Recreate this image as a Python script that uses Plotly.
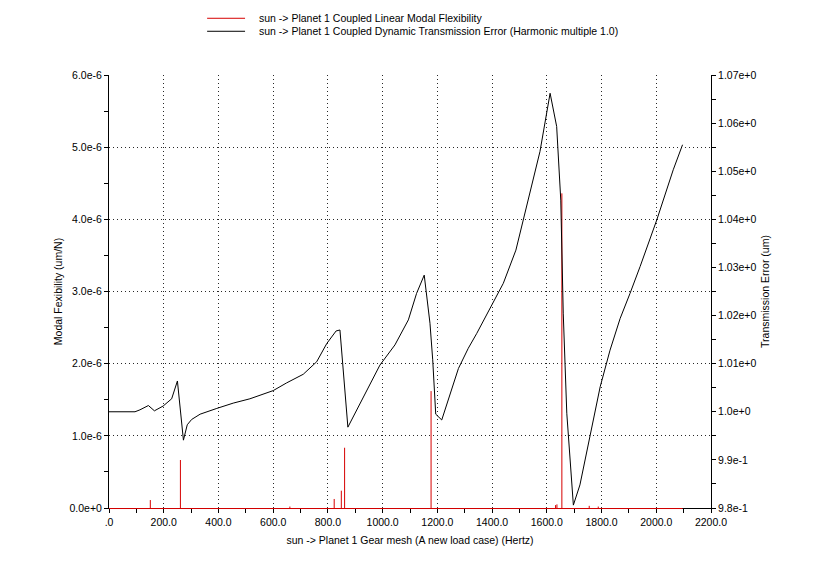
import plotly.graph_objects as go

# Transmission error curve (right axis)
te_freq = [0, 95, 113, 144, 166, 198, 229, 250, 272, 286, 302, 333, 394, 454, 515, 600, 649, 710,
           759, 796, 830, 844, 873, 942, 990, 1045, 1094, 1124, 1152, 1173, 1183, 1194, 1216, 1277,
           1313, 1344, 1392, 1441, 1487, 1575, 1612, 1636, 1651, 1654, 1660, 1673, 1685, 1697, 1721,
           1758, 1795, 1831, 1868, 1904, 1941, 2002, 2062, 2096]
te_vals = [1.0000, 1.0000, 1.0004, 1.0013, 1.0002, 1.0012, 1.0027, 1.0064, 0.9941, 0.9973, 0.9984,
           0.9995, 1.0007, 1.0018, 1.0027, 1.0044, 1.0060, 1.0078, 1.0104, 1.0142, 1.0168, 1.0170,
           0.9968, 1.0045, 1.0097, 1.0139, 1.0191, 1.0246, 1.0284, 1.0184, 1.0108, 0.9995, 0.9983,
           1.0090, 1.0132, 1.0163, 1.0215, 1.0267, 1.0336, 1.0541, 1.0662, 1.0593, 1.0440, 1.0330,
           1.0205, 0.9997, 0.9893, 0.9806, 0.9848, 0.9948, 1.0052, 1.0128, 1.0194, 1.0246, 1.0302,
           1.0399, 1.0503, 1.0555]

# Modal flexibility spikes (left axis)
mf_freq = [151, 261, 661, 823, 849, 861, 1177, 1632, 1637, 1655, 1755, 1788]
mf_vals = [0.11e-6, 0.665e-6, 0.02e-6, 0.125e-6, 0.24e-6, 0.835e-6, 1.62e-6, 0.04e-6, 0.05e-6,
           4.36e-6, 0.03e-6, 0.02e-6]
mf_start, mf_end = 0, 2096

x_ticks = [0, 200, 400, 600, 800, 1000, 1200, 1400, 1600, 1800, 2000, 2200]
x_labels = [".0", "200.0", "400.0", "600.0", "800.0", "1000.0", "1200.0", "1400.0", "1600.0",
            "1800.0", "2000.0", "2200.0"]
y1_ticks = [0, 1e-6, 2e-6, 3e-6, 4e-6, 5e-6, 6e-6]
y1_labels = ["0.0e+0", "1.0e-6", "2.0e-6", "3.0e-6", "4.0e-6", "5.0e-6", "6.0e-6"]
y2_ticks = [0.98, 0.99, 1.00, 1.01, 1.02, 1.03, 1.04, 1.05, 1.06, 1.07]
y2_labels = ["9.8e-1", "9.9e-1", "1.0e+0", "1.01e+0", "1.02e+0", "1.03e+0", "1.04e+0",
             "1.05e+0", "1.06e+0", "1.07e+0"]

name_mf = "sun -> Planet 1 Coupled Linear Modal Flexibility"
name_te = "sun -> Planet 1 Coupled Dynamic Transmission Error (Harmonic multiple 1.0)"

# build the spikes as vertical strokes from zero
sx, sy = [], []
for f, v in zip(mf_freq, mf_vals):
    sx += [f, f, None]
    sy += [0.0, v, None]

RED = "rgb(214,0,0)"
FONT = "Liberation Sans, Arial, sans-serif"
FS = 10.5

fig = go.Figure()
fig.add_trace(go.Scatter(x=sx, y=sy, mode="lines", line=dict(color=RED, width=1),
                         name=name_mf, yaxis="y", showlegend=False))
fig.add_trace(go.Scatter(x=te_freq, y=te_vals, mode="lines", line=dict(color="black", width=1),
                         name=name_te, yaxis="y2", showlegend=False))

axis_common = dict(showline=True, linecolor="black", linewidth=1, ticks="outside", ticklen=4,
                   tickcolor="black", tickfont=dict(size=FS, color="black", family=FONT),
                   zeroline=False, layer="below traces")
GRID = dict(showgrid=True, gridcolor="rgb(40,40,40)", griddash="1px,3px", gridwidth=1)

shapes, annotations = [], []
# zero baseline of the flexibility series, sitting on the x axis line
shapes.append(dict(type="line", xref="x", yref="paper", x0=mf_start, x1=mf_end,
                   y0=-0.0012, y1=-0.0012, layer="above", line=dict(color=RED, width=1)))

# manual legend (line sample + label)
legend_rows = [(name_mf, RED, 1.131), (name_te, "black", 1.101)]
for label, col, yy in legend_rows:
    shapes.append(dict(type="line", xref="paper", yref="paper", x0=0.163, x1=0.226, y0=yy, y1=yy,
                       line=dict(color=col, width=1)))
    annotations.append(dict(xref="paper", yref="paper", x=0.246, y=yy, xanchor="left",
                            yanchor="middle", showarrow=False, text=label,
                            font=dict(size=FS, family=FONT, color="black")))

fig.update_layout(
    width=826, height=588,
    margin=dict(l=109, r=115, t=75, b=80),
    paper_bgcolor="white", plot_bgcolor="white",
    font=dict(family=FONT, size=FS, color="black"),
    showlegend=False,
    shapes=shapes, annotations=annotations,
    xaxis=dict(range=[0, 2200], tickmode="array", tickvals=x_ticks, ticktext=x_labels,
               minor=dict(tickmode="array", tickvals=list(range(100, 2200, 200)), ticks="outside",
                          ticklen=4, tickcolor="black", showgrid=False),
               title=dict(text="sun -> Planet 1 Gear mesh (A new load case) (Hertz)",
                          font=dict(size=FS), standoff=10),
               **GRID, **axis_common),
    yaxis=dict(range=[0, 6e-6], tickmode="array", tickvals=y1_ticks, ticktext=y1_labels,
               minor=dict(tickmode="array", tickvals=[0.5e-6, 1.5e-6, 2.5e-6, 3.5e-6, 4.5e-6, 5.5e-6],
                          ticks="outside", ticklen=4, tickcolor="black", showgrid=False),
               title=dict(text="Modal Fexibility (um/N)", font=dict(size=FS), standoff=4),
               **GRID, **axis_common),
    yaxis2=dict(range=[0.98, 1.07], overlaying="y", side="right", tickmode="array",
                tickvals=y2_ticks, ticktext=y2_labels, showgrid=False,
                minor=dict(tickmode="array",
                           tickvals=[0.985, 0.995, 1.005, 1.015, 1.025, 1.035, 1.045, 1.055, 1.065],
                           ticks="outside", ticklen=4, tickcolor="black", showgrid=False),
                title=dict(text="Transmission Error (um)", font=dict(size=FS), standoff=6),
                **axis_common),
)

fig.write_html("out.html")
